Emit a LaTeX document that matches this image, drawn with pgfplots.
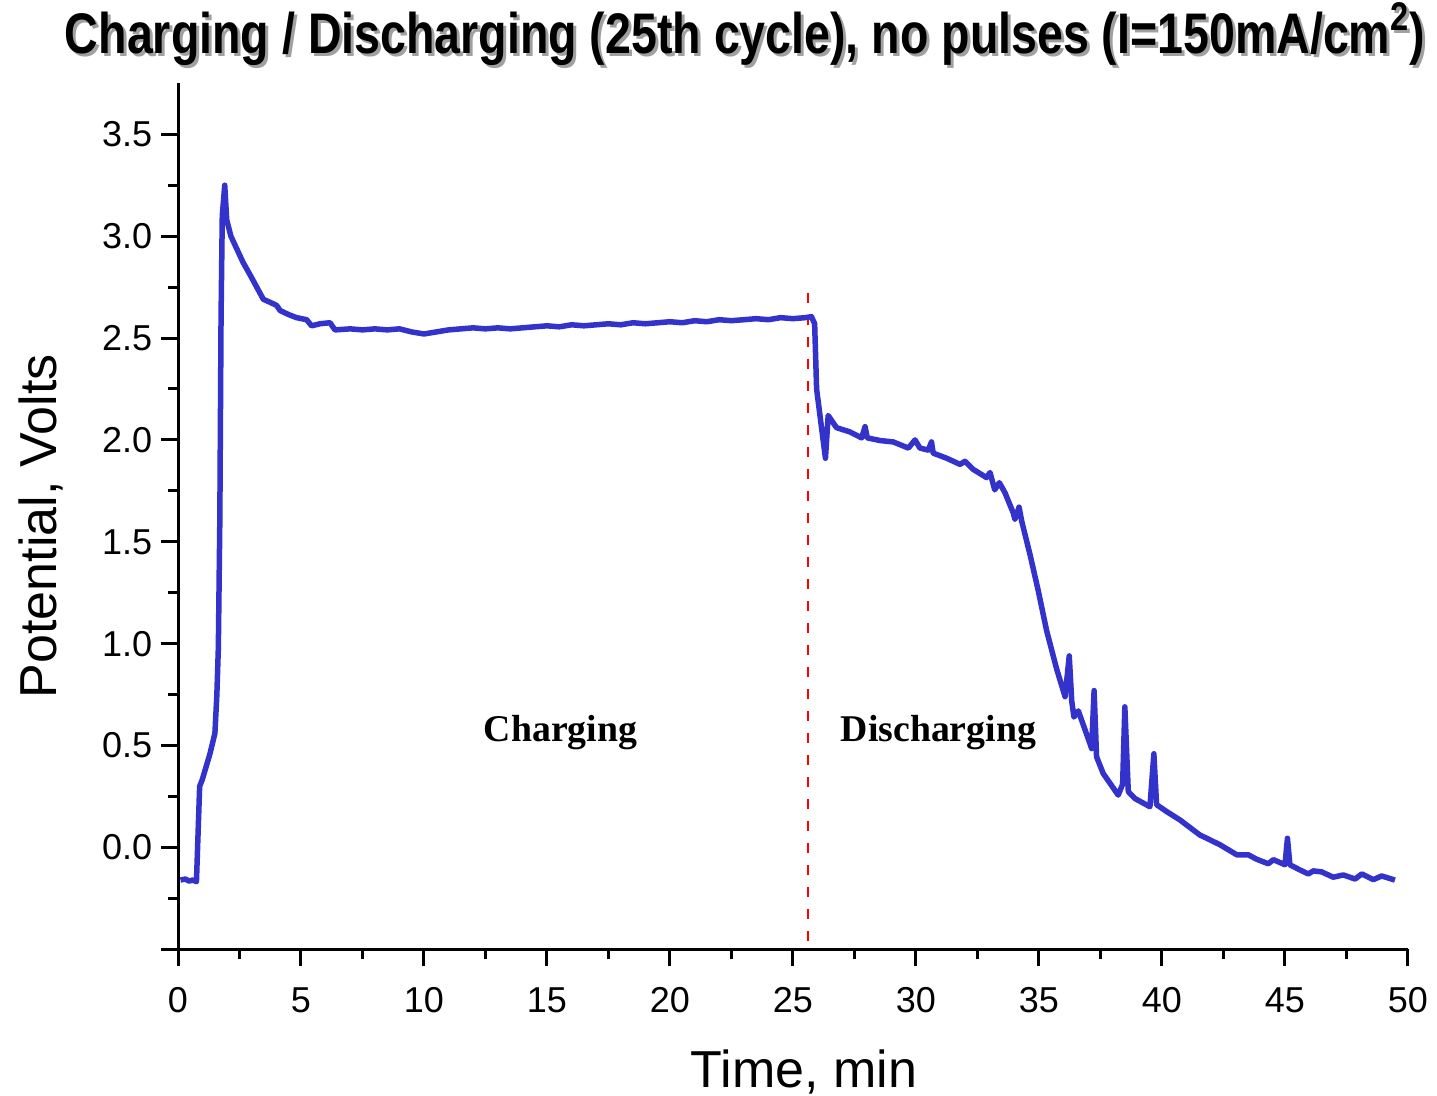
\documentclass[border=0pt]{standalone}
\usepackage{pgfplots}
\pgfplotsset{compat=1.18}
\usepackage{fontspec}
\setmainfont{Liberation Sans}
\newfontfamily\timesfont{Liberation Serif}
\usepackage{graphicx}
\definecolor{curve}{RGB}{51,51,204}
\definecolor{shadowgray}{RGB}{160,160,160}
\newcommand\ttl{Charging / Discharging (25th cycle), no pulses (I=150mA/cm\textsuperscript{2})}
\newcommand\shtitle{\resizebox{544pt}{\height}{\bfseries\fontsize{22.9}{26}\selectfont \ttl}}
\begin{document}
\begin{tikzpicture}
\begin{axis}[
  width=492pt, height=346.4pt, scale only axis,
  xmin=0, xmax=50, ymin=-0.5, ymax=3.75,
  axis x line=bottom, axis y line=left,
  axis line style={-, line width=1.2pt},
  xtick={0,5,...,50}, minor x tick num=1,
  ytick={-0.5,0,0.5,1,1.5,2,2.5,3,3.5},
  yticklabels={{},0.0,0.5,1.0,1.5,2.0,2.5,3.0,3.5},
  minor y tick num=1,
  tick align=outside,
  major tick length=6.8pt, minor tick length=4pt,
  every tick/.style={black, line width=1.2pt},
  tick label style={font=\fontsize{14.4}{16}\selectfont},
  x tick label style={yshift=-5pt},
  /pgf/number format/assume math mode=true,
  xlabel={Time, min},
  ylabel={Potential, Volts},
  label style={font=\fontsize{20.8}{24}\selectfont},
  xlabel style={at={(rel axis cs:0.509,-0.159)}, anchor=base},
  ylabel style={at={(rel axis cs:-0.0984,0.4885)}, anchor=base, rotate=0},
  clip=false,
]
\addplot[red, line width=1.1pt, dash pattern=on 4pt off 4.8pt] coordinates {(25.61,2.72) (25.61,-0.5)};
\addplot[curve, line width=2.2pt, line join=round] coordinates {
(0.1,-0.16) (0.3,-0.155) (0.45,-0.165) (0.6,-0.16) (0.75,-0.168)
(0.88,0.30) (0.98,0.33) (1.3,0.46) (1.5,0.56) (1.58,0.75) (1.64,0.98)
(1.7,1.6) (1.75,2.6) (1.8,3.1) (1.9,3.25) (1.98,3.08) (2.15,3.0)
(2.38,2.94) (2.65,2.87) (2.93,2.81) (3.2,2.75) (3.47,2.69) (3.75,2.675) (4.01,2.66)
(4.15,2.635) (4.5,2.615) (4.82,2.60) (5.23,2.59) (5.43,2.56) (5.77,2.57)
(6.18,2.575) (6.38,2.54) (7,2.545) (7.5,2.54) (8,2.545) (8.5,2.54)
(9,2.545) (9.5,2.53) (10,2.52) (10.5,2.53) (11,2.54) (11.5,2.545)
(12,2.55) (12.5,2.545) (13,2.55) (13.5,2.545) (14,2.55) (14.5,2.555)
(15,2.56) (15.5,2.555) (16,2.565) (16.5,2.56) (17,2.565) (17.5,2.57)
(18,2.565) (18.5,2.575) (19,2.57) (19.5,2.575) (20,2.58) (20.5,2.575)
(21,2.585) (21.5,2.58) (22,2.59) (22.5,2.585) (23,2.59) (23.5,2.595)
(24,2.59) (24.5,2.6) (25,2.595) (25.5,2.6) (25.75,2.605)
(25.88,2.57) (25.96,2.25) (26.16,2.06) (26.32,1.91) (26.43,2.12)
(26.77,2.06) (27.3,2.04) (27.79,2.01) (27.93,2.065) (28.02,2.01)
(28.54,1.997) (29.08,1.99) (29.69,1.96) (29.96,2.0) (30.16,1.96)
(30.5,1.95) (30.63,1.99) (30.7,1.935) (31.25,1.91) (31.79,1.88)
(31.99,1.895) (32.33,1.855) (32.87,1.815) (33.01,1.84) (33.2,1.755)
(33.39,1.79) (33.62,1.74) (33.96,1.64) (34.02,1.61) (34.19,1.67)
(34.3,1.60) (34.63,1.44) (34.97,1.26) (35.31,1.064) (35.72,0.875)
(36.06,0.74) (36.23,0.94) (36.33,0.72) (36.42,0.64) (36.6,0.67)
(37.07,0.51) (37.14,0.485) (37.24,0.77) (37.34,0.445) (37.61,0.363)
(38.22,0.257) (38.4,0.31) (38.49,0.69) (38.63,0.274) (38.9,0.24)
(39.51,0.20) (39.67,0.46) (39.78,0.21) (40.19,0.176) (40.73,0.135)
(41.54,0.061) (41.82,0.045) (42.36,0.013) (43.04,-0.036) (43.51,-0.036)
(43.85,-0.058) (44.32,-0.08) (44.53,-0.06) (45.0,-0.085) (45.1,0.045)
(45.2,-0.085) (45.6,-0.11) (45.95,-0.13) (46.15,-0.115) (46.49,-0.12)
(46.96,-0.146) (47.37,-0.135) (47.85,-0.155) (48.12,-0.13) (48.59,-0.158)
(48.93,-0.14) (49.47,-0.16)
};
\node[anchor=base, font=\timesfont\bfseries\fontsize{15.1}{18}\selectfont] at (axis cs:15.55,0.522) {Charging};
\node[anchor=base, font=\timesfont\bfseries\fontsize{15.1}{18}\selectfont] at (axis cs:30.91,0.522) {Discharging};
\node[anchor=base, text=shadowgray, xshift=1.2pt, yshift=-1.2pt, inner sep=0pt] at (rel axis cs:0.461,1.0346) {\shtitle};
\node[anchor=base, inner sep=0pt] at (rel axis cs:0.461,1.0346) {\shtitle};
\coordinate (bl) at (axis cs:-7.236,-1.217);
\coordinate (tr) at (axis cs:51.18,4.159);
\end{axis}
\pgfresetboundingbox
\path[use as bounding box] (bl) rectangle (tr);
\end{tikzpicture}
\end{document}
